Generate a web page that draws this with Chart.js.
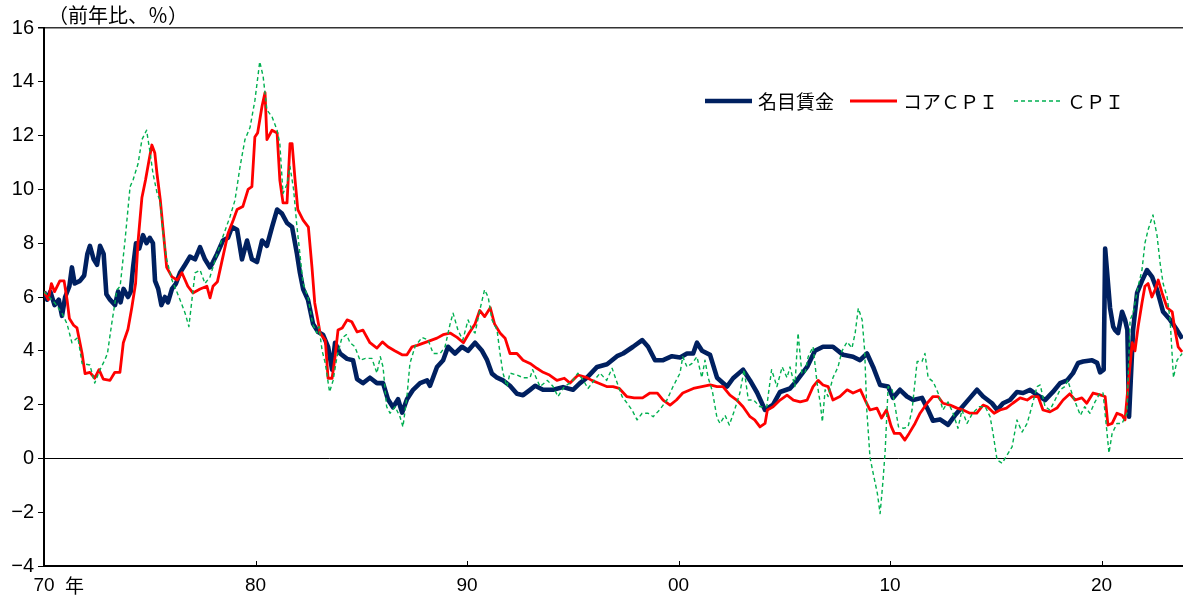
<!DOCTYPE html>
<html>
<head>
<meta charset="utf-8">
<script src="https://cdn.jsdelivr.net/npm/chart.js@4/dist/chart.umd.min.js"></script>
<style>
  html, body { margin: 0; padding: 0; background: #ffffff; }
  #wrap { width: 1183px; height: 603px; }
</style>
</head>
<body>
<div id="wrap"><canvas id="c" width="1183" height="603"></canvas></div>
<script>
// Year-on-year growth rates (%), dated in decimal years.
const wageYears = [1970.00,1970.15,1970.30,1970.50,1970.70,1970.85,1971.00,1971.20,1971.32,1971.45,1971.70,1971.90,1972.05,1972.17,1972.35,1972.51,1972.65,1972.82,1972.95,1973.12,1973.36,1973.50,1973.62,1973.76,1973.97,1974.10,1974.21,1974.35,1974.50,1974.68,1974.85,1975.00,1975.15,1975.25,1975.40,1975.55,1975.72,1975.86,1976.05,1976.24,1976.43,1976.67,1976.90,1977.14,1977.38,1977.61,1977.85,1977.99,1978.18,1978.46,1978.70,1978.89,1979.13,1979.36,1979.60,1979.83,1980.07,1980.31,1980.54,1980.78,1981.02,1981.25,1981.49,1981.73,1981.96,1982.10,1982.25,1982.48,1982.72,1982.96,1983.19,1983.43,1983.62,1983.76,1984.00,1984.33,1984.61,1984.80,1985.08,1985.41,1985.74,1986.03,1986.26,1986.50,1986.74,1986.93,1987.16,1987.45,1987.78,1988.11,1988.25,1988.58,1988.87,1989.10,1989.43,1989.76,1990.05,1990.38,1990.71,1990.95,1991.18,1991.42,1991.70,1992.03,1992.36,1992.65,1992.98,1993.22,1993.59,1994.07,1994.54,1995.01,1995.34,1995.67,1996.15,1996.62,1997.09,1997.38,1997.85,1998.28,1998.56,1998.89,1999.27,1999.69,2000.07,2000.40,2000.69,2000.87,2001.11,2001.49,2001.82,2002.29,2002.58,2003.05,2003.38,2003.71,2004.09,2004.47,2004.80,2005.27,2005.60,2006.08,2006.45,2006.83,2007.30,2007.78,2008.25,2008.58,2008.91,2009.20,2009.53,2009.91,2010.14,2010.47,2010.80,2011.09,2011.51,2011.80,2012.03,2012.36,2012.74,2013.07,2013.40,2013.78,2014.11,2014.40,2014.82,2015.06,2015.34,2015.67,2016.00,2016.29,2016.62,2016.95,2017.33,2017.70,2018.04,2018.37,2018.65,2018.89,2019.13,2019.55,2019.79,2019.93,2020.10,2020.17,2020.40,2020.55,2020.64,2020.78,2020.97,2021.11,2021.22,2021.30,2021.49,2021.68,2021.91,2022.15,2022.39,2022.62,2022.91,2023.24,2023.57,2023.81];
const wageValues = [6.2,5.9,6.2,5.7,5.9,5.3,6.0,6.4,7.1,6.5,6.6,6.8,7.6,7.9,7.4,7.2,7.9,7.6,6.1,5.9,5.7,6.2,5.8,6.3,6.0,6.2,7.1,8.0,7.8,8.3,8.0,8.2,8.0,6.6,6.3,5.7,6.0,5.8,6.3,6.5,6.9,7.2,7.5,7.4,7.85,7.4,7.1,7.3,7.6,8.1,8.2,8.6,8.5,7.4,8.1,7.4,7.3,8.1,7.9,8.6,9.25,9.1,8.75,8.6,7.6,6.9,6.3,5.9,5.0,4.7,4.6,4.15,3.3,4.3,3.9,3.7,3.65,2.95,2.8,3.0,2.8,2.8,2.2,1.9,2.2,1.7,2.2,2.55,2.8,2.9,2.7,3.4,3.65,4.15,3.9,4.15,4.0,4.3,4.0,3.65,3.15,3.0,2.9,2.7,2.4,2.35,2.55,2.7,2.55,2.55,2.65,2.55,2.8,3.0,3.4,3.5,3.8,3.9,4.15,4.4,4.15,3.65,3.65,3.8,3.75,3.9,3.9,4.3,4.0,3.85,3.0,2.67,2.98,3.3,2.9,2.45,1.8,2.0,2.47,2.6,2.9,3.4,4.0,4.15,4.15,3.85,3.78,3.65,3.9,3.4,2.73,2.67,2.25,2.55,2.3,2.17,2.25,1.8,1.4,1.45,1.25,1.6,1.9,2.25,2.55,2.3,2.05,1.8,2.05,2.17,2.47,2.43,2.55,2.36,2.17,2.47,2.8,2.9,3.17,3.55,3.6,3.65,3.55,3.2,3.3,7.8,5.6,4.9,4.77,4.66,5.45,5.15,4.77,1.55,4.77,6.15,6.6,7.0,6.75,6.27,5.45,5.15,4.77,4.45];

const coreYears = [1970.00,1970.20,1970.35,1970.50,1970.75,1970.95,1971.09,1971.20,1971.40,1971.56,1971.80,1971.94,1972.17,1972.40,1972.60,1972.80,1973.12,1973.35,1973.59,1973.75,1973.97,1974.15,1974.33,1974.45,1974.63,1974.80,1974.97,1975.10,1975.24,1975.34,1975.50,1975.62,1975.80,1976.05,1976.30,1976.52,1976.80,1977.04,1977.38,1977.70,1977.85,1977.99,1978.20,1978.46,1978.70,1978.95,1979.13,1979.40,1979.65,1979.83,1979.97,1980.10,1980.31,1980.45,1980.54,1980.78,1981.02,1981.15,1981.30,1981.49,1981.63,1981.73,1981.87,1982.00,1982.25,1982.50,1982.67,1982.80,1983.00,1983.05,1983.30,1983.43,1983.62,1983.76,1983.90,1984.10,1984.33,1984.55,1984.80,1985.08,1985.41,1985.74,1986.00,1986.26,1986.58,1986.93,1987.16,1987.40,1987.64,1988.10,1988.58,1988.87,1989.20,1989.53,1989.83,1990.10,1990.38,1990.60,1990.83,1991.10,1991.30,1991.56,1991.80,1992.03,1992.36,1992.65,1992.98,1993.30,1993.60,1993.90,1994.25,1994.60,1994.87,1995.25,1995.67,1995.90,1996.20,1996.60,1996.90,1997.20,1997.55,1997.90,1998.30,1998.65,1999.00,1999.27,1999.60,1999.90,2000.20,2000.70,2001.10,2001.50,2001.82,2002.10,2002.43,2002.75,2003.05,2003.38,2003.60,2003.85,2004.09,2004.20,2004.47,2004.80,2005.13,2005.43,2005.75,2006.08,2006.36,2006.60,2006.83,2007.07,2007.30,2007.63,2007.97,2008.25,2008.60,2008.82,2009.05,2009.38,2009.60,2009.83,2010.05,2010.20,2010.47,2010.70,2010.90,2011.18,2011.42,2011.75,2012.03,2012.27,2012.50,2012.84,2013.17,2013.45,2013.78,2014.10,2014.40,2014.60,2014.92,2015.20,2015.50,2015.80,2016.15,2016.48,2016.71,2017.00,2017.23,2017.56,2017.89,2018.18,2018.50,2018.75,2019.07,2019.30,2019.60,2019.93,2020.17,2020.30,2020.50,2020.73,2020.97,2021.11,2021.25,2021.45,2021.58,2021.73,2021.91,2022.05,2022.20,2022.38,2022.53,2022.68,2022.86,2023.10,2023.34,2023.47,2023.62,2023.81];
const coreValues = [6.2,5.9,6.5,6.2,6.6,6.6,5.9,5.2,4.95,4.85,3.9,3.15,3.2,2.98,3.3,2.95,2.9,3.2,3.2,4.3,4.8,5.6,6.5,8.1,9.7,10.35,11.1,11.65,11.35,10.6,9.6,8.6,7.1,6.75,6.63,6.9,6.4,6.15,6.3,6.4,5.97,6.4,6.57,7.5,8.36,8.86,9.25,9.36,10.0,10.1,11.95,12.1,13.1,13.6,11.85,12.2,12.1,10.35,9.5,9.5,11.7,11.7,10.35,9.25,8.86,8.6,7.1,5.78,4.9,4.66,4.4,2.98,2.98,3.77,4.77,4.85,5.15,5.08,4.7,4.77,4.3,4.1,4.33,4.15,4.0,3.85,3.85,4.15,4.2,4.33,4.47,4.6,4.66,4.5,4.3,4.66,5.0,5.5,5.27,5.6,5.0,4.66,4.47,3.9,3.9,3.65,3.53,3.35,3.2,3.1,2.9,2.98,2.8,3.1,3.0,2.9,2.8,2.67,2.67,2.6,2.3,2.25,2.25,2.43,2.43,2.17,1.98,2.17,2.43,2.6,2.67,2.73,2.67,2.67,2.35,2.17,1.92,1.55,1.43,1.17,1.3,1.8,1.92,2.17,2.35,2.17,2.1,2.17,2.67,2.9,2.73,2.67,2.17,2.3,2.55,2.43,2.55,2.17,1.8,1.87,1.5,1.8,1.2,0.93,0.93,0.68,0.93,1.3,1.68,2.05,2.3,2.3,2.05,1.98,1.87,1.8,1.68,1.68,1.98,1.92,1.68,1.8,1.87,2.05,2.25,2.17,2.3,2.3,1.8,1.73,1.87,2.17,2.4,2.17,2.25,2.05,2.43,2.36,2.3,1.24,1.3,1.68,1.6,1.43,2.67,4.3,4.0,4.9,5.78,6.4,6.5,6.0,6.27,6.63,6.15,5.6,5.45,4.77,4.15,3.96];

const cpiYears = [1970.00,1970.52,1970.85,1971.09,1971.32,1971.60,1971.80,1972.17,1972.40,1972.65,1972.87,1973.00,1973.20,1973.45,1973.60,1973.83,1974.07,1974.21,1974.45,1974.63,1974.85,1975.00,1975.15,1975.35,1975.48,1975.63,1975.80,1976.05,1976.24,1976.43,1976.67,1976.85,1977.14,1977.38,1977.61,1977.85,1978.18,1978.46,1978.80,1979.03,1979.27,1979.50,1979.74,1979.97,1980.20,1980.36,1980.54,1980.78,1981.02,1981.15,1981.30,1981.49,1981.63,1981.80,1981.96,1982.10,1982.25,1982.48,1982.70,1982.90,1983.00,1983.15,1983.30,1983.50,1983.67,1983.85,1984.08,1984.30,1984.47,1984.70,1984.94,1985.20,1985.50,1985.74,1985.90,1986.03,1986.20,1986.36,1986.60,1986.83,1986.97,1987.16,1987.30,1987.54,1987.87,1988.16,1988.40,1988.73,1988.96,1989.20,1989.34,1989.57,1989.80,1990.05,1990.24,1990.38,1990.60,1990.83,1991.00,1991.18,1991.42,1991.56,1991.70,1991.89,1992.03,1992.36,1992.65,1992.98,1993.10,1993.45,1993.80,1994.07,1994.30,1994.60,1994.96,1995.24,1995.50,1995.72,1995.96,1996.29,1996.60,1996.86,1997.10,1997.33,1997.57,1997.80,1998.04,1998.28,1998.56,1998.80,1999.10,1999.45,1999.74,2000.07,2000.20,2000.40,2000.64,2000.87,2001.10,2001.25,2001.40,2001.60,2001.82,2001.96,2002.20,2002.40,2002.65,2002.90,2003.10,2003.30,2003.55,2003.85,2004.17,2004.40,2004.65,2004.90,2005.13,2005.27,2005.50,2005.65,2005.83,2005.98,2006.13,2006.36,2006.55,2006.70,2006.80,2006.93,2007.07,2007.30,2007.54,2007.73,2007.97,2008.20,2008.35,2008.50,2008.68,2008.80,2008.90,2009.05,2009.20,2009.40,2009.53,2009.67,2009.77,2009.91,2010.10,2010.24,2010.40,2010.64,2010.85,2011.04,2011.28,2011.51,2011.65,2011.80,2012.04,2012.27,2012.50,2012.74,2012.98,2013.21,2013.40,2013.64,2013.90,2014.22,2014.50,2014.73,2014.87,2015.06,2015.30,2015.53,2015.77,2016.00,2016.24,2016.48,2016.70,2016.95,2017.10,2017.33,2017.56,2017.80,2018.04,2018.27,2018.40,2018.65,2018.90,2019.00,2019.20,2019.45,2019.69,2019.93,2020.07,2020.26,2020.35,2020.50,2020.73,2020.97,2021.20,2021.35,2021.49,2021.73,2021.91,2022.05,2022.20,2022.43,2022.62,2022.77,2022.91,2023.10,2023.24,2023.40,2023.57,2023.81];
const cpiValues = [6.2,5.77,5.4,5.0,4.3,4.5,3.53,3.47,2.8,3.3,3.65,3.9,5.0,6.27,6.4,8.1,10.1,10.35,10.96,11.85,12.2,11.45,10.6,9.85,9.6,8.36,7.4,6.63,6.27,5.9,5.4,4.9,6.9,7.0,6.5,6.75,7.6,8.25,9.0,9.6,10.85,11.85,12.3,13.3,14.75,14.2,12.95,12.7,12.2,11.7,9.85,10.2,10.85,10.0,8.6,7.6,6.5,6.0,5.0,4.66,4.9,4.0,3.53,2.47,2.9,3.77,4.47,4.6,4.3,4.15,3.65,3.72,3.72,3.17,3.78,3.4,1.92,1.68,1.92,1.55,1.17,2.3,3.53,4.15,4.5,4.4,3.9,3.9,4.15,5.0,5.4,4.77,4.4,5.15,4.77,4.66,5.5,6.27,6.0,5.15,4.77,3.9,3.17,2.67,3.17,3.1,3.0,3.0,3.3,2.67,2.9,2.67,2.3,2.67,2.85,3.17,2.9,2.6,2.85,3.17,2.9,3.35,2.8,2.3,2.05,1.8,1.43,1.68,1.68,1.55,1.8,2.17,2.67,3.17,3.78,3.4,3.53,3.78,3.0,3.65,3.0,2.5,1.5,1.3,1.6,1.24,1.8,2.43,3.3,2.17,2.17,1.92,1.92,3.3,2.67,3.4,3.0,3.4,2.67,4.66,3.17,3.17,3.78,4.15,2.8,2.05,1.36,2.55,2.3,3.0,3.4,4.0,4.33,4.1,4.66,5.58,5.15,4.0,1.8,0.05,-0.55,-1.3,-2.05,-0.8,0.3,2.67,2.55,1.92,1.17,1.12,1.17,1.8,3.6,3.6,3.9,3.0,2.85,2.43,1.8,2.1,1.68,1.12,1.8,1.3,1.68,1.92,1.92,1.55,0.93,-0.06,-0.18,0.12,0.43,1.43,0.98,1.3,1.92,2.67,2.73,1.92,1.8,2.17,2.55,2.67,2.9,2.3,1.8,1.6,1.92,1.68,2.1,2.43,2.43,0.93,0.2,0.93,1.3,1.3,1.68,5.15,5.4,6.4,7.0,8.0,8.5,9.05,8.3,7.25,6.5,6.0,5.15,3.0,3.65,3.9];

// Decade ticks along the time axis and their labels.
const tickYears = [1970, 1980, 1990, 2000, 2010, 2020];
const tickLabels = ['70', '80', '90', '00', '10', '20'];

const seriesNames = { wage: '名目賃金', core: 'コアＣＰＩ', cpi: 'ＣＰＩ' };
const unitLabel = '（前年比、％）';
const yearSuffix = '年';

const numFont = "'Liberation Sans', Arial, sans-serif";
const jpFont = "'Noto Sans CJK JP', 'Noto Sans', sans-serif";

const toPoints = (xs, ys) => xs.map((x, i) => ({ x: x, y: ys[i] }));

const datasets = [
  { label: seriesNames.cpi, data: toPoints(cpiYears, cpiValues), borderColor: '#00b050',
    borderWidth: 1.4, borderDash: [4, 3] },
  { label: seriesNames.core, data: toPoints(coreYears, coreValues), borderColor: '#ff0000',
    borderWidth: 2.8 },
  { label: seriesNames.wage, data: toPoints(wageYears, wageValues), borderColor: '#002060',
    borderWidth: 4.6 }
].map(d => Object.assign({ pointRadius: 0, tension: 0, fill: false,
  borderJoinStyle: 'round', borderCapStyle: 'butt' }, d));

// Small upward tick marks on the time axis, the unit caption, the "年" suffix and the legend.
const decorations = {
  id: 'decorations',
  afterDraw(chart) {
    const ctx = chart.ctx;
    const area = chart.chartArea;
    const xs = chart.scales.x;
    ctx.save();
    ctx.strokeStyle = '#000';
    ctx.lineWidth = 1;
    tickYears.forEach(v => {
      if (v === xs.min) return;
      const px = Math.round(xs.getPixelForValue(v)) + 0.5;
      ctx.beginPath();
      ctx.moveTo(px, area.bottom);
      ctx.lineTo(px, area.bottom - 5);
      ctx.stroke();
    });

    // unit caption above the value axis
    ctx.fillStyle = '#000';
    ctx.font = '20px ' + jpFont;
    ctx.textBaseline = 'middle';
    ctx.textAlign = 'left';
    ctx.fillText(unitLabel, area.left + 4, 15);

    // "年" after the first decade label
    const first = xs.getPixelForValue(tickYears[0]);
    ctx.font = '19px ' + jpFont;
    ctx.fillText(yearSuffix, first + 21, area.bottom + 20);

    // legend
    const order = [2, 1, 0];
    let x = 705;
    const y = 101;
    ctx.font = '19px ' + jpFont;
    order.forEach(di => {
      const ds = chart.data.datasets[di];
      ctx.save();
      ctx.strokeStyle = ds.borderColor;
      ctx.lineWidth = ds.borderWidth;
      ctx.setLineDash(ds.borderDash || []);
      ctx.beginPath();
      ctx.moveTo(x, y);
      ctx.lineTo(x + 47, y);
      ctx.stroke();
      ctx.restore();
      x += 53;
      ctx.fillStyle = '#000';
      ctx.fillText(ds.label, x, y + 1);
      x += ctx.measureText(ds.label).width + 16;
    });
    ctx.restore();
  }
};

new Chart(document.getElementById('c'), {
  type: 'line',
  data: { datasets: datasets },
  options: {
    responsive: false,
    animation: false,
    devicePixelRatio: 1,
    layout: { padding: { top: 28, right: 0, left: 0, bottom: 0 } },
    plugins: { legend: { display: false }, tooltip: { enabled: false }, title: { display: false } },
    scales: {
      x: {
        type: 'linear',
        min: 1970,
        max: 2023.85,
        afterFit(s) { s.height = 37; },
        afterBuildTicks(s) { s.ticks = tickYears.map(v => ({ value: v })); },
        grid: { display: true, drawOnChartArea: false, drawTicks: false },
        border: { display: true, color: '#000', width: 2 },
        ticks: {
          autoSkip: false, maxRotation: 0, padding: 8, color: '#000',
          font: { family: numFont, size: 19 },
          callback: v => tickLabels[tickYears.indexOf(v)] ?? ''
        }
      },
      y: {
        min: -4,
        max: 16,
        afterFit(s) { s.width = 44; },
        grid: {
          color: c => c.tick.value === 0 ? '#000' : (c.tick.value === 16 ? '#333' : 'rgba(0,0,0,0)'),
          lineWidth: c => c.tick.value === 16 ? 1.5 : 1,
          tickColor: '#000',
          tickLength: 6
        },
        border: { display: true, color: '#000', width: 2 },
        ticks: {
          stepSize: 2, padding: 4, color: '#000',
          font: { family: numFont, size: 20 },
          callback: v => v < 0 ? '\u2212' + Math.abs(v) : String(v)
        }
      }
    }
  },
  plugins: [decorations]
});
</script>
</body>
</html>
